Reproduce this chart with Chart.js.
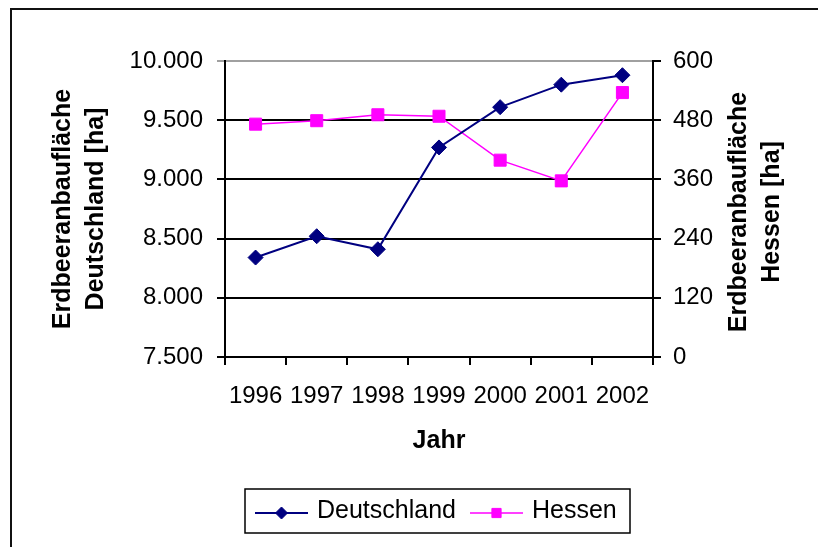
<!DOCTYPE html>
<html>
<head>
<meta charset="utf-8">
<script src="https://cdn.jsdelivr.net/npm/chart.js@4/dist/chart.umd.min.js"></script>
<style>
  html, body { margin: 0; padding: 0; background: #fff; }
  #wrap { width: 818px; height: 547px; position: relative; }
</style>
</head>
<body>
<div id="wrap"><canvas id="chart" width="818" height="547"></canvas></div>
<script>
// values
const years = ['1996', '1997', '1998', '1999', '2000', '2001', '2002'];
const deutschland = [8340, 8520, 8410, 9270, 9610, 9800, 9880];
const hessen = [472, 479, 491, 488, 399, 357, 536];
const leftTicks = [7500, 8000, 8500, 9000, 9500, 10000];
const rightTicks = [0, 120, 240, 360, 480, 600];

const FONT = "'Liberation Sans', Arial, sans-serif";
const NAVY = '#000080';
const PINK = '#ff00ff';

// thousands separator like the german excel chart: 10.000
const fmtDe = v => String(v).replace(/\B(?=(\d{3})+(?!\d))/g, '.');

// outer frame + white background
const framePlugin = {
  id: 'frame',
  beforeDraw(chart) {
    const ctx = chart.ctx;
    ctx.save();
    ctx.fillStyle = '#fff';
    ctx.fillRect(0, 0, chart.width, chart.height);
    ctx.strokeStyle = '#111';
    ctx.lineWidth = 2;
    ctx.beginPath();
    ctx.moveTo(11, chart.height);
    ctx.lineTo(11, 9);
    ctx.lineTo(chart.width, 9);
    ctx.stroke();
    ctx.restore();
  }
};

// right axis title reads bottom-to-top in the original, chart.js rotates it the other way
const rightTitlePlugin = {
  id: 'rightTitle',
  afterDraw(chart) {
    const ctx = chart.ctx;
    const area = chart.chartArea;
    const cy = (area.top + area.bottom) / 2 + 3;
    ctx.save();
    ctx.font = 'bold 25px ' + FONT;
    ctx.fillStyle = '#000';
    ctx.textAlign = 'center';
    ctx.textBaseline = 'middle';
    [['Erdbeeranbaufläche', 739], ['Hessen [ha]', 772]].forEach(([txt, x]) => {
      ctx.save();
      ctx.translate(x, cy);
      ctx.rotate(-Math.PI / 2);
      ctx.fillText(txt, 0, 0);
      ctx.restore();
    });
    ctx.restore();
  }
};

// boxed legend with line+marker samples
const legendBoxPlugin = {
  id: 'legendBox',
  afterDraw(chart) {
    const ctx = chart.ctx;
    const box = { x: 245, y: 489, w: 385, h: 44 };
    const cy = box.y + box.h / 2;
    ctx.save();
    ctx.strokeStyle = '#000';
    ctx.lineWidth = 1.5;
    ctx.strokeRect(box.x, box.y, box.w, box.h);

    ctx.font = '25px ' + FONT;
    ctx.textBaseline = 'middle';
    ctx.fillStyle = '#000';

    chart.data.datasets.forEach((ds, i) => {
      const x0 = i === 0 ? 255 : 470;
      const x1 = x0 + 53;
      ctx.strokeStyle = ds.borderColor;
      ctx.lineWidth = ds.borderWidth;
      ctx.beginPath();
      ctx.moveTo(x0, cy + 2);
      ctx.lineTo(x1, cy + 2);
      ctx.stroke();
      ctx.fillStyle = ds.pointBackgroundColor;
      ctx.strokeStyle = ds.pointBorderColor;
      ctx.lineWidth = 1;
      Chart.helpers.drawPoint(ctx, {
        pointStyle: ds.pointStyle,
        radius: i === 0 ? 6 : 6.5,
        rotation: 0,
        borderWidth: 1
      }, (x0 + x1) / 2, cy + 2);
      ctx.fillStyle = '#000';
      ctx.fillText(ds.label, x1 + 9, cy);
    });
    ctx.restore();
  }
};

new Chart(document.getElementById('chart'), {
  type: 'line',
  data: {
    labels: years,
    datasets: [
      {
        label: 'Deutschland',
        data: deutschland,
        yAxisID: 'y',
        borderColor: NAVY,
        borderWidth: 2,
        pointStyle: 'rectRot',
        pointRadius: 7.5,
        pointBackgroundColor: NAVY,
        pointBorderColor: NAVY,
        pointBorderWidth: 1,
        tension: 0
      },
      {
        label: 'Hessen',
        data: hessen,
        yAxisID: 'y2',
        borderColor: PINK,
        borderWidth: 1.5,
        pointStyle: 'rect',
        pointRadius: 8.5,
        pointBackgroundColor: PINK,
        pointBorderColor: PINK,
        pointBorderWidth: 1,
        tension: 0
      }
    ]
  },
  options: {
    responsive: false,
    animation: false,
    layout: { padding: { left: 12, right: 0, top: 61, bottom: 0 } },
    plugins: {
      legend: { display: false },
      tooltip: { enabled: false }
    },
    scales: {
      x: {
        offset: true,
        grid: { offset: true, drawOnChartArea: false, color: '#000', lineWidth: 2, tickLength: 8 },
        border: { color: '#000', width: 2 },
        ticks: { color: '#000', font: { family: FONT, size: 24 }, padding: 17, maxRotation: 0, autoSkip: false },
        title: {
          display: true,
          text: 'Jahr',
          color: '#000',
          font: { family: FONT, size: 25, weight: 'bold' },
          padding: { top: 0, bottom: 91 }
        },
        afterFit: s => { s.height = 190; }
      },
      y: {
        position: 'left',
        min: 7500,
        max: 10000,
        afterBuildTicks: s => { s.ticks = leftTicks.map(v => ({ value: v })); },
        grid: {
          color: c => (c.tick && c.tick.value === 10000 ? '#a0a0a0' : '#000'),
          lineWidth: 2,
          tickLength: 8
        },
        border: { color: '#000', width: 2 },
        ticks: { color: '#000', font: { family: FONT, size: 24 }, padding: 14, callback: v => fmtDe(v) },
        title: {
          display: true,
          text: ['Erdbeeranbaufläche', 'Deutschland [ha]'],
          color: '#000',
          font: { family: FONT, size: 25, weight: 'bold', lineHeight: 1.32 },
          padding: { top: 35, bottom: 0 }
        },
        afterFit: s => { s.width = 213; }
      },
      y2: {
        position: 'right',
        min: 0,
        max: 600,
        afterBuildTicks: s => { s.ticks = rightTicks.map(v => ({ value: v })); },
        grid: { drawOnChartArea: false, color: '#000', lineWidth: 2, tickLength: 8 },
        border: { color: '#000', width: 2 },
        ticks: { color: '#000', font: { family: FONT, size: 24 }, padding: 12 },
        afterFit: s => { s.width = 165; }
      }
    }
  },
  plugins: [framePlugin, rightTitlePlugin, legendBoxPlugin]
});
</script>
</body>
</html>
